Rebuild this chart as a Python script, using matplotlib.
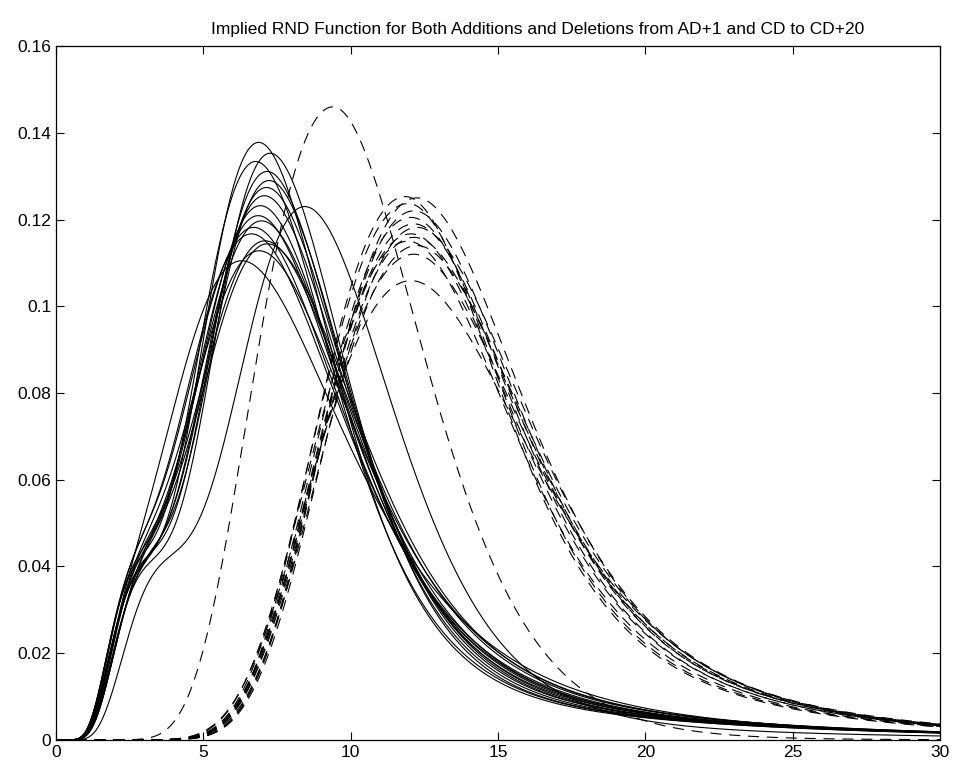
import numpy as np
import matplotlib
matplotlib.use("Agg")
import matplotlib.pyplot as plt

plt.rcParams['font.family'] = ['Liberation Sans', 'DejaVu Sans']

# additions (solid): main body peak location / height, left hump, right tail
add_mode = [6.95, 7.35, 6.85, 7.25, 7.35, 7.25, 7.15, 7.05, 6.95, 7.15, 6.85, 6.75, 7.25, 7.35, 7.05, 6.45, 8.6]
add_peak = [0.1378, 0.1353, 0.1334, 0.1311, 0.1290, 0.1274, 0.1255, 0.1232, 0.1209,
            0.1197, 0.1182, 0.1167, 0.1151, 0.1144, 0.1128, 0.1105, 0.1230]
add_hump_at = [2.9, 3.1, 2.8, 3.0, 3.2, 3.1, 2.9, 3.0, 2.8, 3.2, 2.9, 2.8, 3.1, 3.2, 3.0, 2.8, 3.7]
add_hump_w = [0.12, 0.13, 0.12, 0.13, 0.14, 0.13, 0.12, 0.13, 0.12, 0.14, 0.13, 0.12,
              0.14, 0.14, 0.13, 0.10, 0.16]
add_tail_w = [0.18, 0.19, 0.18, 0.19, 0.20, 0.19, 0.19, 0.20, 0.19, 0.20, 0.19, 0.19,
              0.21, 0.21, 0.20, 0.18, 0.10]

# deletions (dashed): peak location / height, log-widths left and right of the peak
del_mode = [11.85, 12.25, 11.95, 12.15, 12.05, 12.15, 12.25, 12.05, 12.15, 11.95, 12.25, 12.15, 12.05, 9.4]
del_peak = [0.1253, 0.1250, 0.1237, 0.1220, 0.1205, 0.1190, 0.1182, 0.1167, 0.1159,
            0.1150, 0.1140, 0.1120, 0.1059, 0.1460]
del_sd_left = [0.28, 0.28, 0.29, 0.28, 0.29, 0.29, 0.28, 0.29, 0.29, 0.30, 0.29, 0.30, 0.31, 0.32]
del_sd_right = [0.23, 0.24, 0.23, 0.24, 0.24, 0.24, 0.25, 0.24, 0.25, 0.24, 0.25, 0.25, 0.27, 0.285]
del_tail_share = [0.24, 0.25, 0.24, 0.25, 0.25, 0.26, 0.25, 0.26, 0.25, 0.26, 0.26, 0.27, 0.27, 0.0]

x = np.linspace(0.02, 30, 1500)


def lognorm(x, mode, s):
    mu = np.log(mode) + s ** 2
    return np.exp(-(np.log(x) - mu) ** 2 / (2 * s ** 2)) / (x * s * np.sqrt(2 * np.pi))


def addition_curve(mode, peak, extra):
    # pick the main sigma so that the mixture's top hits the read-off peak
    w_main = 1.0 - sum(w for w, _, _ in extra)
    base = sum(w * lognorm(x, m, s) for w, m, s in extra)
    lo, hi = 0.08, 1.5
    for _ in range(50):
        s = 0.5 * (lo + hi)
        y = base + w_main * lognorm(x, mode, s)
        if y.max() > peak:
            lo = s
        else:
            hi = s
    return y


def deletion_curve(mode, peak, sd_left, sd_right, tail_share, sd_tail=0.43):
    u = np.log(x / mode)
    left = np.exp(-u ** 2 / (2 * sd_left ** 2))
    right = ((1 - tail_share) * np.exp(-u ** 2 / (2 * sd_right ** 2))
             + tail_share * np.exp(-u ** 2 / (2 * sd_tail ** 2)))
    return peak * np.where(u < 0, left, right)


fig, ax = plt.subplots(figsize=(9.54, 7.69), dpi=100)
fig.subplots_adjust(left=0.0587, right=0.9853, bottom=0.038, top=0.94)

for m, p, ha, hw, tw in zip(add_mode, add_peak, add_hump_at, add_hump_w, add_tail_w):
    y = addition_curve(m, p, [(hw, ha, 0.42), (tw, 9.2, 0.6)])
    ax.plot(x, y, color='black', lw=0.8)

for m, p, sl, sr, ts in zip(del_mode, del_peak, del_sd_left, del_sd_right, del_tail_share):
    y = deletion_curve(m, p, sl, sr, ts)
    line, = ax.plot(x, y, color='black', lw=0.8, linestyle='--')
    line.set_dashes([10, 7])

ax.set_xlim(0, 30)
ax.set_ylim(0, 0.16)
ax.set_xticks(range(0, 31, 5))
ax.set_yticks(np.arange(0, 0.161, 0.02))
ax.set_yticklabels(['0', '0.02', '0.04', '0.06', '0.08', '0.1', '0.12', '0.14', '0.16'])
ax.tick_params(direction='in', top=True, right=True, length=6, labelsize=12.5)
for sp in ax.spines.values():
    sp.set_linewidth(0.9)
ax.set_title('Implied RND Function for Both Additions and Deletions from AD+1 and CD to CD+20',
             fontsize=12.5, pad=9, x=0.545)

fig.savefig('out.png', dpi=100)
